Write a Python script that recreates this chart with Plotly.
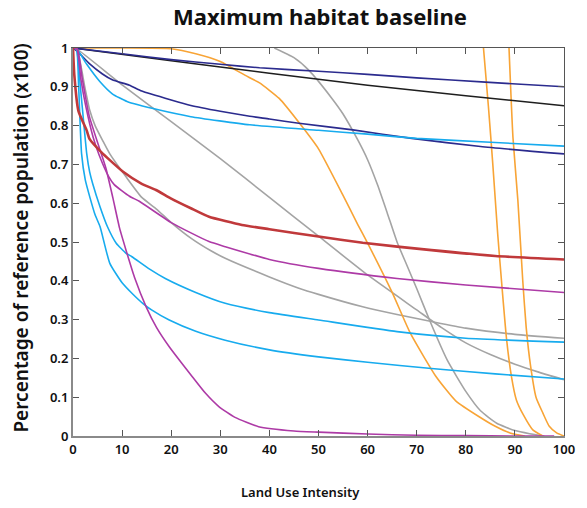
import plotly.graph_objects as go

# ---- data ----
navy_top_x = [0, 10, 20, 30, 38, 50, 60, 70, 84, 100]
navy_top_y = [1, 0.985, 0.97, 0.958, 0.949, 0.94, 0.932, 0.923, 0.912, 0.9]

black_x = [0, 20, 40, 60, 80, 100]
black_y = [1, 0.967, 0.935, 0.904, 0.877, 0.851]

navy_mid_x = [0, 1, 3.4, 6, 8, 11.5, 14, 20, 24, 30, 36, 40, 46, 57, 69, 83, 100]
navy_mid_y = [1, 0.99, 0.959, 0.933, 0.918, 0.904, 0.889, 0.866, 0.852, 0.837, 0.824, 0.817, 0.806, 0.789, 0.767, 0.746, 0.727]

cyan1_x = [0, 0.8, 2.8, 5.5, 8, 11, 17.6, 24, 36, 50, 60, 70, 85, 100]
cyan1_y = [1, 0.997, 0.958, 0.913, 0.882, 0.862, 0.84, 0.823, 0.802, 0.788, 0.778, 0.767, 0.757, 0.747]

gray_diag_x = [0, 0.8, 10, 20, 30, 40, 50, 60, 70, 75, 80, 85, 90, 95, 100]
gray_diag_y = [1, 0.997, 0.905, 0.81, 0.715, 0.615, 0.515, 0.415, 0.325, 0.28, 0.24, 0.21, 0.185, 0.164, 0.145]

gray_low_x = [0, 0.8, 2.4, 3.4, 4.5, 6.1, 7.5, 10.8, 14, 17, 20, 24, 28, 31, 40, 46, 50, 59, 66, 73, 80, 90, 100]
gray_low_y = [1, 0.997, 0.9, 0.84, 0.8, 0.76, 0.727, 0.668, 0.615, 0.585, 0.55, 0.51, 0.478, 0.458, 0.41, 0.381, 0.365, 0.333, 0.313, 0.295, 0.278, 0.262, 0.252]

gray_arc_x = [41, 45, 48, 52.5, 55, 58, 60, 62, 64, 66, 68, 70, 72.8, 76.2, 80, 83, 86.3, 90, 93, 96]
gray_arc_y = [1, 0.975, 0.943, 0.874, 0.83, 0.763, 0.712, 0.648, 0.575, 0.5, 0.44, 0.38, 0.293, 0.196, 0.115, 0.065, 0.033, 0.014, 0.006, 0.0]

red_x = [0, 0.27, 1.1, 2.8, 3.4, 5.8, 7.5, 10.2, 14, 16.9, 20, 24, 27.7, 34.4, 40, 50, 59, 73, 86, 100]
red_y = [1, 0.93, 0.838, 0.787, 0.765, 0.731, 0.711, 0.681, 0.65, 0.634, 0.612, 0.587, 0.565, 0.544, 0.533, 0.514, 0.498, 0.479, 0.464, 0.455]

mag1_x = [0, 0.8, 1.6, 2.6, 4.1, 5.3, 7.3, 8.4, 11.5, 13.5, 20, 27.7, 31, 40, 50, 66, 80, 100]
mag1_y = [1, 0.997, 0.92, 0.85, 0.77, 0.725, 0.668, 0.648, 0.618, 0.605, 0.55, 0.501, 0.488, 0.455, 0.432, 0.406, 0.389, 0.37]

mag2_x = [0, 0.9, 1.9, 3.3, 5.3, 6.7, 8.1, 9.5, 10.8, 12.5, 14.9, 17, 19.6, 22, 24.3, 27, 29.7, 33, 37.8, 45, 50, 60, 70, 80, 90, 98]
mag2_y = [1, 0.997, 0.92, 0.825, 0.745, 0.69, 0.615, 0.535, 0.479, 0.41, 0.333, 0.28, 0.23, 0.19, 0.153, 0.11, 0.076, 0.048, 0.024, 0.013, 0.01, 0.005, 0.002, 0.001, 0.0, 0.0]

cyan2_x = [0, 0.7, 1.5, 2.8, 3.4, 4, 5.5, 7, 8.8, 10.8, 12, 15.6, 18.8, 25, 31, 40, 50, 66, 80, 100]
cyan2_y = [1, 0.997, 0.9, 0.727, 0.68, 0.651, 0.591, 0.54, 0.497, 0.471, 0.462, 0.43, 0.406, 0.37, 0.342, 0.318, 0.299, 0.269, 0.252, 0.242]

cyan3_x = [0, 0.7, 1.15, 1.75, 2.5, 3.4, 4.5, 5.5, 7.5, 10, 12, 14.2, 16, 19.6, 25, 31, 40, 50, 60, 73, 86, 100]
cyan3_y = [1, 0.997, 0.9, 0.727, 0.66, 0.617, 0.57, 0.54, 0.445, 0.395, 0.368, 0.342, 0.325, 0.299, 0.27, 0.247, 0.222, 0.204, 0.19, 0.174, 0.16, 0.147]

orange1_x = [0, 10, 20, 25, 30, 35, 38, 42, 46.5, 50, 55, 58, 60, 65, 68.7, 74, 78, 82.8, 86, 89, 92]
orange1_y = [1, 1, 0.998, 0.985, 0.965, 0.93, 0.91, 0.87, 0.8, 0.74, 0.62, 0.545, 0.497, 0.37, 0.265, 0.152, 0.09, 0.049, 0.025, 0.008, 0.0]

orange2_x = [83.6, 84.6, 85.5, 86.5, 87.4, 88.3, 89.3, 90.3, 91.7, 93.7, 95.7]
orange2_y = [1, 0.85, 0.7, 0.52, 0.38, 0.25, 0.153, 0.093, 0.055, 0.015, 0.0]

orange3_x = [88.8, 89.6, 90.6, 91.6, 92.3, 93.2, 94.3, 95.7, 97, 98.5, 100]
orange3_y = [1, 0.77, 0.608, 0.4, 0.28, 0.18, 0.1, 0.059, 0.025, 0.008, 0.0]

x_ticks = [0, 10, 20, 30, 40, 50, 60, 70, 80, 90, 100]
y_ticks = [0, 0.1, 0.2, 0.3, 0.4, 0.5, 0.6, 0.7, 0.8, 0.9, 1]
y_tick_text = ["0", "0.1", "0.2", "0.3", "0.4", "0.5", "0.6", "0.7", "0.8", "0.9", "1"]

NAVY = "#2b2b8e"
BLACK = "#1e1e1e"
CYAN = "#17abee"
GRAY = "#a4a4a4"
ORANGE = "#f8a436"
MAG = "#ad3aa6"
RED = "#c0393b"

series = [
    (gray_diag_x, gray_diag_y, GRAY, 1.6),
    (gray_low_x, gray_low_y, GRAY, 1.6),
    (gray_arc_x, gray_arc_y, GRAY, 1.6),
    (orange1_x, orange1_y, ORANGE, 1.6),
    (orange2_x, orange2_y, ORANGE, 1.6),
    (orange3_x, orange3_y, ORANGE, 1.6),
    (black_x, black_y, BLACK, 1.6),
    (navy_top_x, navy_top_y, NAVY, 1.6),
    (navy_mid_x, navy_mid_y, NAVY, 1.6),
    (cyan1_x, cyan1_y, CYAN, 1.6),
    (cyan2_x, cyan2_y, CYAN, 1.6),
    (cyan3_x, cyan3_y, CYAN, 1.6),
    (mag1_x, mag1_y, MAG, 1.6),
    (mag2_x, mag2_y, MAG, 1.6),
    (red_x, red_y, RED, 2.6),
]

fig = go.Figure()
for xs, ys, col, w in series:
    fig.add_trace(go.Scatter(x=xs, y=ys, mode="lines",
                             line=dict(color=col, width=w, shape="spline", smoothing=0.5),
                             hoverinfo="skip", showlegend=False, cliponaxis=True))

# invisible trace for the mirrored top/right frame axes
fig.add_trace(go.Scatter(x=[0, 100], y=[0, 1], xaxis="x2", yaxis="y2", mode="markers",
                         marker=dict(opacity=0), hoverinfo="skip", showlegend=False))

FONT = "Noto Sans"
tickfont = dict(family=FONT, size=13, color="#111", weight=600)

fig.update_layout(
    width=587, height=508,
    margin=dict(l=73, r=19, t=48, b=72),
    paper_bgcolor="white", plot_bgcolor="white",
    title=dict(text="Maximum habitat baseline", x=0.545, xanchor="center", y=0.965, yanchor="middle",
               font=dict(family=FONT, size=22, color="#111", weight=700)),
    xaxis=dict(range=[0, 100], tickvals=x_ticks, ticks="inside", ticklen=6, tickwidth=1,
               tickcolor="#555", showline=True, linecolor="#8a8a8a", linewidth=2,
               showgrid=False, zeroline=False, tickfont=tickfont),
    yaxis=dict(range=[0, 1], tickvals=y_ticks, ticktext=y_tick_text, ticks="inside", ticklen=6,
               tickwidth=1, tickcolor="#555", showline=True, linecolor="#8a8a8a", linewidth=2,
               showgrid=False, zeroline=False, tickfont=tickfont),
    xaxis2=dict(range=[0, 100], overlaying="x", side="top", anchor="y2", tickvals=x_ticks,
                ticks="inside", ticklen=6, tickcolor="#555", showticklabels=False,
                showline=True, linecolor="#555", linewidth=1, showgrid=False, zeroline=False),
    yaxis2=dict(range=[0, 1], overlaying="y", side="right", anchor="x2", tickvals=y_ticks,
                ticks="inside", ticklen=6, tickcolor="#555", showticklabels=False,
                showline=True, linecolor="#555", linewidth=1, showgrid=False, zeroline=False),
    annotations=[
        dict(text="Land Use Intensity", xref="paper", yref="paper", x=0.463, y=-0.144,
             xanchor="center", yanchor="middle", showarrow=False,
             font=dict(family=FONT, size=13, color="#111", weight=600)),
        dict(text="Percentage of reference population (x100)", xref="paper", yref="paper",
             x=-0.105, y=0.51, xanchor="center", yanchor="middle", textangle=-90, showarrow=False,
             font=dict(family=FONT, size=19, color="#111", weight=600)),
    ],
)

fig.write_html("out.html")
